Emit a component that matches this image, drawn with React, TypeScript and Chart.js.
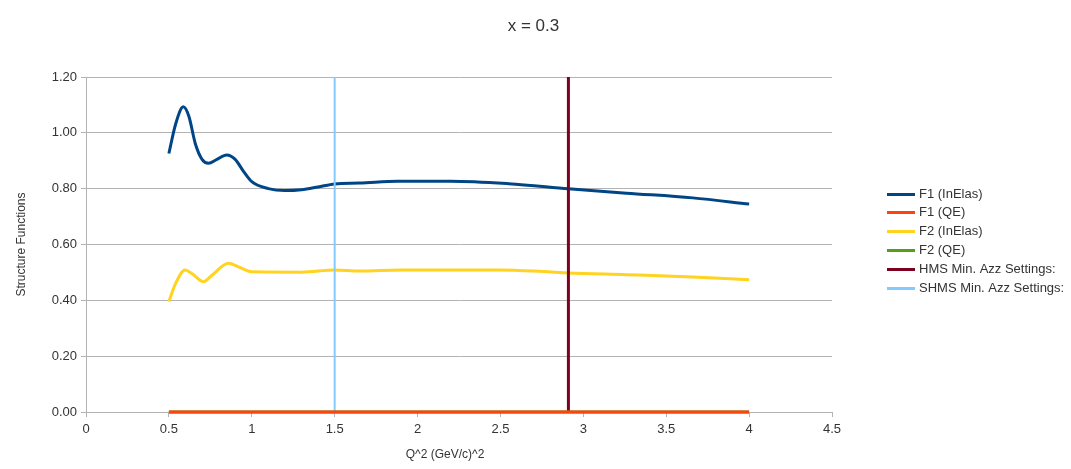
import React, { useEffect, useRef } from "react";
import { Chart, registerables } from "chart.js";

Chart.register(...registerables);

const chartTitle = "x = 0.3";
const xAxisTitle = "Q^2 (GeV/c)^2";
const yAxisTitle = "Structure Functions";

const f1InElasX = [0.5, 0.54, 0.587, 0.62, 0.66, 0.7, 0.738, 0.79, 0.849, 0.9, 0.95, 1.0, 1.1, 1.2, 1.3, 1.4, 1.5, 1.65, 1.88, 2.2, 2.55, 2.91, 3.26, 3.66, 4.0];
const f1InElasY = [0.926, 1.03, 1.093, 1.06, 0.96, 0.905, 0.891, 0.905, 0.921, 0.905, 0.862, 0.825, 0.8, 0.793, 0.796, 0.806, 0.817, 0.82, 0.827, 0.827, 0.818, 0.8, 0.784, 0.767, 0.745];

const f2InElasX = [0.5, 0.54, 0.598, 0.64, 0.708, 0.76, 0.859, 0.92, 1.0, 1.3, 1.5, 1.65, 1.9, 2.5, 2.76, 2.91, 3.26, 3.66, 4.0];
const f2InElasY = [0.396, 0.46, 0.509, 0.495, 0.467, 0.49, 0.533, 0.52, 0.502, 0.501, 0.509, 0.505, 0.509, 0.509, 0.503, 0.498, 0.492, 0.484, 0.474];

const qeX = [0.5, 4.0];
const f1QEY = [0, 0];
const f2QEY = [0, 0];

const hmsX = [2.91, 2.91];
const hmsY = [0, 1.2];
const shmsX = [1.5, 1.5];
const shmsY = [0, 1.2];

const seriesNames = ["F1 (InElas)", "F1 (QE)", "F2 (InElas)", "F2 (QE)", "HMS Min. Azz Settings:", "SHMS Min. Azz Settings:"];
const seriesColors = ["#004586", "#ff420e", "#ffd320", "#579d1c", "#7e0021", "#83caff"];

const xTicksMin = 0;
const xTicksMax = 4.5;
const xStep = 0.5;
const yTicksMin = 0;
const yTicksMax = 1.2;
const yStep = 0.2;

const FONT = "'Liberation Sans', Arial, sans-serif";
const TEXT = "#333333";
const GRID = "#b3b3b3";

const zip = (xs: number[], ys: number[]) => xs.map((x, i) => ({ x, y: ys[i] }));

const customPlugin = {
  id: "customDecor",
  afterDraw(chart: any) {
    const ctx = chart.ctx;
    ctx.save();
    // chart title
    ctx.font = `17px ${FONT}`;
    ctx.fillStyle = TEXT;
    ctx.textAlign = "center";
    ctx.textBaseline = "middle";
    ctx.fillText(chartTitle, 533.5, 26.5);
    // x axis title
    ctx.font = `12px ${FONT}`;
    ctx.textBaseline = "alphabetic";
    ctx.fillText(xAxisTitle, 445, 458);
    // legend
    const ds = chart.data.datasets;
    const order = [0, 1, 2, 3, 4, 5];
    ctx.font = `13px ${FONT}`;
    ctx.textAlign = "left";
    ctx.textBaseline = "middle";
    order.forEach((idx, i) => {
      const d = ds.find((q: any) => q.legendIndex === idx);
      const y = 193.5 + i * 18.8;
      ctx.strokeStyle = d.borderColor;
      ctx.lineWidth = 3;
      ctx.beginPath();
      ctx.moveTo(887, Math.round(y) + 0.5);
      ctx.lineTo(915, Math.round(y) + 0.5);
      ctx.stroke();
      ctx.fillStyle = TEXT;
      ctx.fillText(d.label, 919, y + 0.5);
    });
    ctx.restore();
  },
};

export default function App() {
  const canvasRef = useRef<HTMLCanvasElement | null>(null);

  useEffect(() => {
    document.body.style.margin = "0";
    const canvas = canvasRef.current;
    if (!canvas) return;
    const mk = (i: number, data: any[], width: number, order: number) => ({
      label: seriesNames[i],
      legendIndex: i,
      data,
      borderColor: seriesColors[i],
      backgroundColor: seriesColors[i],
      borderWidth: width,
      pointRadius: 0,
      pointHoverRadius: 0,
      fill: false,
      tension: 0.4,
      cubicInterpolationMode: "monotone" as const,
      clip: 4,
      order,
    });
    const chart = new Chart(canvas, {
      type: "line",
      data: {
        datasets: [
          mk(1, zip(qeX, f1QEY), 3, 0),
          mk(3, zip(qeX, f2QEY), 3, 1),
          mk(4, zip(hmsX, hmsY), 3, 2),
          mk(5, zip(shmsX, shmsY), 2, 3),
          mk(0, zip(f1InElasX, f1InElasY), 3, 4),
          mk(2, zip(f2InElasX, f2InElasY), 3, 5),
        ] as any,
      },
      options: {
        animation: false,
        responsive: false,
        devicePixelRatio: 1,
        layout: { padding: { left: 0, right: 239, top: 77, bottom: 0 } },
        plugins: {
          legend: { display: false },
          tooltip: { enabled: false },
          title: { display: false },
        },
        scales: {
          x: {
            type: "linear",
            min: xTicksMin,
            max: xTicksMax,
            afterFit: (s: any) => {
              s.height = 57;
            },
            ticks: {
              stepSize: xStep,
              color: TEXT,
              font: { family: FONT, size: 13 },
              padding: 5,
              maxRotation: 0,
              callback: (v: any) => String(Math.round(Number(v) * 10) / 10),
            },
            grid: { display: true, drawOnChartArea: false, drawTicks: true, tickLength: 5, color: GRID },
            border: { display: true, color: GRID },
          },
          y: {
            type: "linear",
            min: yTicksMin,
            max: yTicksMax,
            afterFit: (s: any) => {
              s.width = 86;
            },
            ticks: {
              stepSize: yStep,
              color: TEXT,
              font: { family: FONT, size: 13 },
              padding: 4,
              callback: (v: any) => Number(v).toFixed(2),
            },
            grid: { color: GRID, tickLength: 5 },
            border: { display: true, color: GRID },
            title: {
              display: true,
              text: yAxisTitle,
              color: TEXT,
              font: { family: FONT, size: 12, lineHeight: 1.2 },
              padding: { top: 14, bottom: 0 },
            },
          },
        },
      },
      plugins: [customPlugin],
    });
    return () => chart.destroy();
  }, []);

  return (
    <div style={{ position: "absolute", left: 0, top: 0, width: 1071, height: 469, background: "#fff" }}>
      <canvas ref={canvasRef} width={1071} height={469} />
    </div>
  );
}
